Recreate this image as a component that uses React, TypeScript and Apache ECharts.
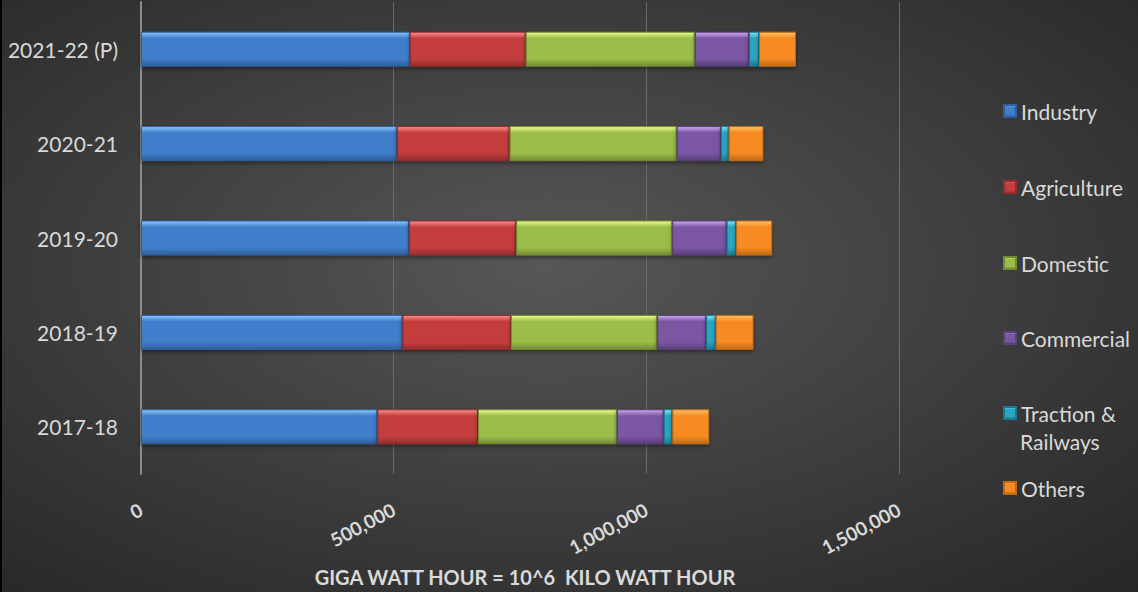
import React, { useEffect, useRef } from "react";
import * as echarts from "echarts";

const categories = ["2017-18", "2018-19", "2019-20", "2020-21", "2021-22 (P)"];
const industry = [467700, 517400, 530200, 506300, 532000];
const agriculture = [199200, 214600, 212300, 223100, 229300];
const domestic = [274800, 289500, 308900, 330700, 334800];
const commercial = [92700, 97000, 107500, 87500, 107300];
const traction = [17000, 18800, 18800, 15400, 19800];
const others = [73100, 74800, 71300, 68700, 72900];
const xTicks = [0, 500000, 1000000, 1500000];

const seriesNames = ["Industry", "Agriculture", "Domestic", "Commercial", "Traction & Railways", "Others"];
const seriesData = [industry, agriculture, domestic, commercial, traction, others];
const palette = [
  { light: "#8ccaff", base: "#3f7ecb", dark: "#2f5f9c" },
  { light: "#ff9090", base: "#c43e3e", dark: "#942c2c" },
  { light: "#efff90", base: "#9bbd48", dark: "#738c33" },
  { light: "#d0aaf5", base: "#7a57a3", dark: "#5a3f7a" },
  { light: "#80eafc", base: "#2aa5c2", dark: "#1c7a8f" },
  { light: "#ffc466", base: "#f68b22", dark: "#c06a14" },
];
const legendY = [111, 187, 263, 338, 413, 488];

const grad = (p: { light: string; base: string; dark: string }) =>
  new echarts.graphic.LinearGradient(0, 0, 0, 1, [
    { offset: 0, color: p.light },
    { offset: 0.18, color: p.base },
    { offset: 0.78, color: p.base },
    { offset: 1, color: p.dark },
  ]);

export default function App() {
  const ref = useRef<HTMLDivElement>(null);
  useEffect(() => {
    if (!ref.current) return;
    const chart = echarts.init(ref.current, null, { renderer: "svg" });
    const font = "Lato, 'Open Sans', sans-serif";
    const series = seriesNames.map((name, i) => ({
      name,
      type: "bar",
      stack: "total",
      data: seriesData[i],
      barWidth: 35,
      itemStyle: {
        color: grad(palette[i]),
        borderColor: palette[i].dark,
        borderWidth: 1,
        shadowBlur: 4,
        shadowColor: "rgba(0,0,0,0.45)",
        shadowOffsetY: 2,
      },
      emphasis: { disabled: true },
    }));
    const legends = seriesNames.map((name, i) => ({
      data: [name],
      orient: "vertical",
      left: 1003,
      top: legendY[i] - 12,
      padding: 0,
      icon: "rect",
      itemWidth: 12,
      itemHeight: 12,
      formatter: name === "Traction & Railways" ? () => "Traction &" : undefined,
      textStyle: { color: "#d9d9d9", fontSize: 21, fontFamily: font, lineHeight: 24 },
      selectedMode: false,
    }));
    chart.setOption({
      animation: false,
      backgroundColor: new echarts.graphic.RadialGradient(0.48, 0.45, 0.75, [
        { offset: 0, color: "#575757" },
        { offset: 1, color: "#272727" },
      ]),
      grid: { left: 141, right: 239, top: 2, bottom: 118 },
      legend: legends,
      xAxis: {
        type: "value",
        min: xTicks[0],
        max: xTicks[xTicks.length - 1],
        interval: 500000,
        axisLine: { show: false },
        axisTick: { show: false },
        splitLine: { lineStyle: { color: "#6b6b6b", width: 1 } },
        axisLabel: {
          rotate: 28,
          margin: 34,
          color: "#d9d9d9",
          fontSize: 19,
          fontWeight: "bold",
          fontFamily: font,
          formatter: (v: number) => v.toLocaleString("en-US"),
        },
      },
      yAxis: {
        type: "category",
        data: categories,
        axisLine: { show: true, lineStyle: { color: "#8c8c8c", width: 2 } },
        axisTick: { show: false },
        axisLabel: { color: "#d9d9d9", fontSize: 21, fontFamily: font, margin: 23 },
      },
      graphic: [
        { type: "rect", left: 0, top: 0, shape: { x: 0, y: 0, width: 2, height: 592 }, style: { fill: "#000" } },
        {
          type: "text",
          x: 525,
          y: 577,
          style: {
            text: "GIGA WATT HOUR = 10^6  KILO WATT HOUR",
            fill: "#d9d9d9",
            font: `bold 20px ${font}`,
            align: "center",
            verticalAlign: "middle",
          },
        },
        {
          type: "text",
          x: 1020,
          y: 441,
          style: {
            text: "Railways",
            fill: "#d9d9d9",
            font: `21px ${font}`,
            align: "left",
            verticalAlign: "middle",
          },
        },
      ],
      series,
    });
    return () => chart.dispose();
  }, []);
  return (
    <div
      ref={ref}
      style={{ position: "absolute", left: 0, top: 0, width: 1138, height: 592 }}
    />
  );
}
